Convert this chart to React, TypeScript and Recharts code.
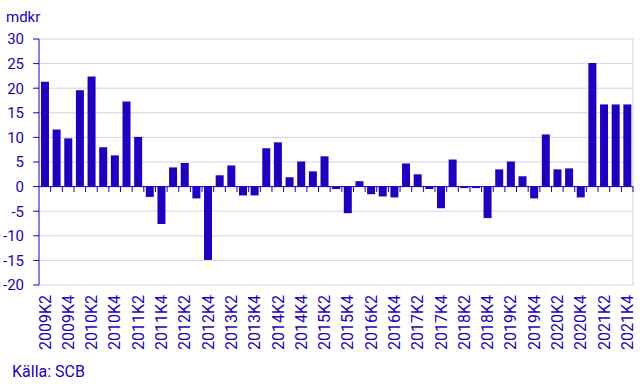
import { Bar, BarChart, CartesianGrid, ReferenceLine, XAxis, YAxis } from "recharts";

const quarters = [
  "2009K2", "2009K3", "2009K4",
  "2010K1", "2010K2", "2010K3", "2010K4",
  "2011K1", "2011K2", "2011K3", "2011K4",
  "2012K1", "2012K2", "2012K3", "2012K4",
  "2013K1", "2013K2", "2013K3", "2013K4",
  "2014K1", "2014K2", "2014K3", "2014K4",
  "2015K1", "2015K2", "2015K3", "2015K4",
  "2016K1", "2016K2", "2016K3", "2016K4",
  "2017K1", "2017K2", "2017K3", "2017K4",
  "2018K1", "2018K2", "2018K3", "2018K4",
  "2019K1", "2019K2", "2019K3", "2019K4",
  "2020K1", "2020K2", "2020K3", "2020K4",
  "2021K1", "2021K2", "2021K3", "2021K4"
];

// mdkr per quarter
const values = [
  21.3, 11.6, 9.8,
  19.6, 22.4, 8.0, 6.35,
  17.3, 10.1, -2.1, -7.6,
  3.9, 4.8, -2.4, -14.9,
  2.3, 4.3, -1.8, -1.8,
  7.8, 9.0, 1.9, 5.1,
  3.1, 6.15, -0.5, -5.4,
  1.1, -1.55, -2.0, -2.2,
  4.7, 2.5, -0.5, -4.4,
  5.5, -0.3, -0.3, -6.4,
  3.5, 5.1, 2.1, -2.4,
  10.6, 3.5, 3.7, -2.2,
  25.1, 16.7, 16.7, 16.7
];

const yTicks = [-20, -15, -10, -5, 0, 5, 10, 15, 20, 25, 30];

const BLUE = "#1e00be";
const GRID = "#d4d1ec";
const FONT = "Roboto, sans-serif";

const data = quarters.map((q, i) => ({ q, value: values[i] }));

function QuarterTick({ x, y, payload }: any) {
  return (
    <text
      x={x}
      y={y}
      dy="0.36em"
      transform={`rotate(-90 ${x} ${y})`}
      textAnchor="end"
      fill={BLUE}
      fontSize={16}
      fontFamily={FONT}
    >
      {payload.value}
    </text>
  );
}

export default function App() {
  return (
    <div style={{ position: "absolute", left: 0, top: 0, width: 640, height: 390, background: "#fff" }}>
      <BarChart
        width={640}
        height={390}
        data={data}
        margin={{ top: 39, right: 7, bottom: 0, left: 0 }}
        barCategoryGap="17%"
      >
        <CartesianGrid vertical={false} stroke={GRID} strokeWidth={1} />
        <XAxis
          dataKey="q"
          interval={1}
          height={105}
          axisLine={false}
          tickLine={false}
          tickSize={0}
          tickMargin={10}
          tick={<QuarterTick />}
        />
        <YAxis
          domain={[-20, 30]}
          ticks={yTicks}
          width={39}
          axisLine={{ stroke: BLUE, strokeWidth: 1 }}
          tickLine={{ stroke: BLUE }}
          tickSize={6}
          tickMargin={9}
          tick={{ fill: BLUE, fontSize: 15, fontFamily: FONT }}
        />
        <Bar dataKey="value" fill={BLUE} isAnimationActive={false} />
        <ReferenceLine x={quarters[quarters.length - 1]} position="end" stroke={GRID} />
        <ReferenceLine y={0} stroke={BLUE} strokeWidth={1} />
        {quarters.map((q) => (
          <ReferenceLine
            key={q}
            segment={[{ x: q, y: 0 }, { x: q, y: -1.1 }]}
            position="end"
            stroke={BLUE}
          />
        ))}
      </BarChart>
      <svg width={640} height={390} style={{ position: "absolute", left: 0, top: 0, pointerEvents: "none" }}>
        <text x={6} y={22} fill={BLUE} fontSize={15} fontFamily={FONT}>mdkr</text>
        <text x={12} y={377} fill={BLUE} fontSize={16} fontFamily={FONT}>Källa: SCB</text>
      </svg>
    </div>
  );
}
